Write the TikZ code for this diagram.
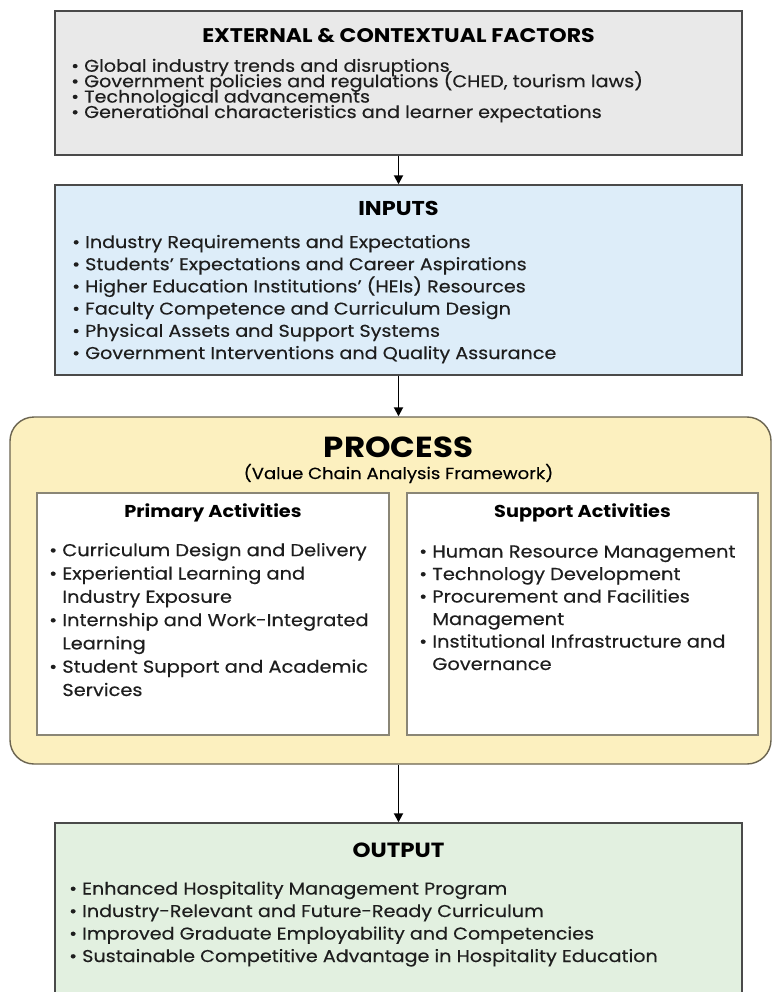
\documentclass[tikz,border=0pt]{standalone}
\usepackage{fontspec}
\setmainfont{Poppins}[FakeStretch=1.12,UprightFeatures={FakeBold=0.35}]
\usetikzlibrary{arrows.meta}
\definecolor{extgray}{HTML}{E9E9E9}
\definecolor{inblue}{HTML}{DDEDF9}
\definecolor{procyellow}{HTML}{FCF0BF}
\definecolor{outgreen}{HTML}{E2F0E0}
\definecolor{edgegray}{HTML}{4A4A4A}
\definecolor{procedge}{HTML}{6B6450}
\definecolor{inneredge}{HTML}{8A8676}
\definecolor{txt}{HTML}{1E1E1E}
\newcommand\tightskip{\lineskiplimit-20pt\relax}
\begin{document}
\begin{tikzpicture}[x=1pt,y=-1pt,
  box/.style={draw=edgegray,line width=1.4pt,inner sep=0pt},
  innerbox/.style={draw=inneredge,line width=1.2pt,fill=white,inner sep=0pt},
  title/.style={anchor=base,inner sep=0pt,font=\fontsize{20}{20}\selectfont\bfseries},
  subtitle/.style={anchor=base,inner sep=0pt,font=\fontsize{17.2}{17}\selectfont\bfseries},
  blist/.style={anchor=base west,inner sep=0pt,align=left,text=txt},
  arr/.style={-{Triangle[length=9pt,width=9pt]},line width=1.8pt,black}]
\useasboundingbox (0,0) rectangle (772,992);
\fill[white] (0,0) rectangle (772,992);

% boxes
\node[box,fill=extgray,minimum width=687pt,minimum height=144pt] (ext) at (398.5,83) {};
\node[box,fill=inblue,minimum width=687pt,minimum height=190pt] (inputs) at (398.5,280) {};
\node[box,draw=procedge,fill=procyellow,rounded corners=24pt,minimum width=761pt,minimum height=347pt] (proc) at (390.5,590.5) {};
\node[innerbox,minimum width=352pt,minimum height=242pt] (primary) at (213,614) {};
\node[innerbox,minimum width=351pt,minimum height=242pt] (support) at (582.5,614) {};
\node[box,fill=outgreen,minimum width=687pt,minimum height=180pt] (output) at (398.5,913) {};

% external factors (lists are anchored at the baseline of their last line)
\node[title,font=\fontsize{19.7}{20}\selectfont\bfseries] (exttitle) at (398.5,43) {EXTERNAL \& CONTEXTUAL FACTORS};
\node[blist,font=\fontsize{17.1}{15.4}\selectfont\tightskip] (extlist) at (71,118)
  {• Global industry trends and disruptions\\
   • Government policies and regulations (CHED, tourism laws)\\
   • Technological advancements\\
   • Generational characteristics and learner expectations};

% inputs
\node[title] (intitle) at (398.5,216) {INPUTS};
\node[blist,font=\fontsize{17.1}{22.2}\selectfont] (inlist) at (72,359)
  {• Industry Requirements and Expectations\\
   • Students’ Expectations and Career Aspirations\\
   • Higher Education Institutions’ (HEIs) Resources\\
   • Faculty Competence and Curriculum Design\\
   • Physical Assets and Support Systems\\
   • Government Interventions and Quality Assurance};

% process
\node[anchor=base,inner sep=0pt,font=\fontsize{29}{29}\selectfont\bfseries] (proctitle) at (398.5,457) {PROCESS};
\node[anchor=base,inner sep=0pt,font=\fontsize{16.1}{16}\selectfont] (procsub) at (398.5,479) {(Value Chain Analysis Framework)};
\node[subtitle] (primtitle) at (213,517) {Primary Activities};
\node[subtitle] (supptitle) at (582.5,517) {Support Activities};
\node[blist,font=\fontsize{17.3}{23.3}\selectfont] (primlist) at (49,696)
  {• Curriculum Design and Delivery\\
   • Experiential Learning and\\
   \phantom{• }Industry Exposure\\
   • Internship and Work-Integrated\\
   \phantom{• }Learning\\
   • Student Support and Academic\\
   \phantom{• }Services};
\node[blist,font=\fontsize{17.3}{22.5}\selectfont] (supplist) at (419,670)
  {• Human Resource Management\\
   • Technology Development\\
   • Procurement and Facilities\\
   \phantom{• }Management\\
   • Institutional Infrastructure and\\
   \phantom{• }Governance};

% output
\node[title,font=\fontsize{20.5}{20}\selectfont\bfseries] (outtitle) at (398.5,857) {OUTPUT};
\node[blist,font=\fontsize{17.1}{22.5}\selectfont] (outlist) at (69,962)
  {• Enhanced Hospitality Management Program\\
   • Industry-Relevant and Future-Ready Curriculum\\
   • Improved Graduate Employability and Competencies\\
   • Sustainable Competitive Advantage in Hospitality Education};

% arrows
\draw[arr] (ext.south) -- (inputs.north);
\draw[arr] (inputs.south) -- (inputs.south |- proc.north);
\draw[arr] (inputs.south |- proc.south) -- (output.north);
\end{tikzpicture}
\end{document}
